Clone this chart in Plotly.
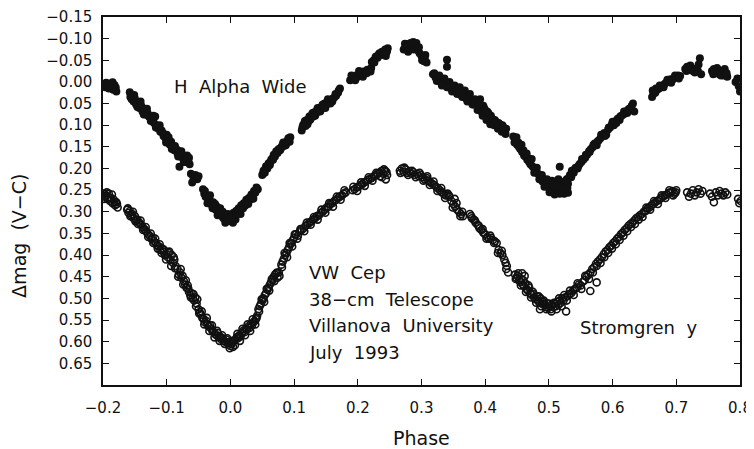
import plotly.graph_objects as go

# ---------------- data ----------------
ha_phase = [
    -0.199, -0.197, -0.195, -0.193, -0.191, -0.189, -0.187, -0.185, -0.184, -0.182, -0.180, -0.179,
    -0.158, -0.155, -0.152, -0.150, -0.148, -0.145, -0.143, -0.140, -0.138, -0.135, -0.133, -0.130,
    -0.128, -0.125, -0.122, -0.120, -0.118, -0.116, -0.113, -0.110, -0.108, -0.105, -0.102, -0.100,
    -0.098, -0.095, -0.093, -0.090, -0.088, -0.085, -0.083, -0.080, -0.078, -0.076, -0.074, -0.072,
    -0.070, -0.068, -0.066, -0.064, -0.080,
    -0.062, -0.058, -0.055, -0.052, -0.050, -0.060,
    -0.043, -0.041, -0.039, -0.037, -0.035, -0.033, -0.031, -0.029, -0.027, -0.025, -0.023, -0.021,
    -0.019, -0.017, -0.015, -0.013, -0.011, -0.009, -0.007, -0.005, -0.003, -0.001, 0.001, 0.003, 0.005,
    0.007, 0.009, 0.011, 0.013, 0.015, 0.017, 0.019, 0.021, 0.023, 0.025, 0.027, 0.029, 0.031, 0.033,
    0.035, 0.037, 0.039, 0.041, 0.043,
    0.050, 0.052, 0.054, 0.056, 0.058, 0.060, 0.062, 0.064, 0.066, 0.068, 0.070, 0.072, 0.074, 0.076,
    0.078, 0.080, 0.082, 0.084, 0.086, 0.088, 0.090, 0.092, 0.094,
    0.112, 0.114, 0.116, 0.118, 0.120, 0.122, 0.124, 0.126, 0.128, 0.130, 0.132, 0.134, 0.136, 0.138,
    0.140, 0.142, 0.144, 0.146, 0.148, 0.150, 0.152, 0.155, 0.158, 0.160, 0.163, 0.166, 0.169, 0.172,
    0.188, 0.191, 0.194, 0.197, 0.200, 0.203, 0.206, 0.209, 0.212, 0.215, 0.218, 0.221,
    0.222, 0.225, 0.228, 0.231, 0.234, 0.237, 0.240, 0.243, 0.245, 0.247,
    0.272, 0.275, 0.278, 0.281, 0.284, 0.287, 0.290, 0.293, 0.295, 0.297, 0.300, 0.302, 0.304, 0.306, 0.308,
    0.340, 0.340,
    0.318, 0.322, 0.326, 0.330, 0.334, 0.338, 0.342, 0.346, 0.350, 0.354, 0.358, 0.362, 0.366, 0.370,
    0.374, 0.378, 0.382, 0.386, 0.390, 0.392, 0.394, 0.397, 0.400, 0.403, 0.406, 0.409, 0.412, 0.415,
    0.418, 0.421, 0.424, 0.427, 0.430, 0.433,
    0.444, 0.447, 0.450, 0.452, 0.455, 0.458, 0.460, 0.463, 0.466, 0.468, 0.471, 0.474, 0.477, 0.480,
    0.483, 0.486,
    0.488, 0.490, 0.492, 0.494, 0.496, 0.498, 0.500, 0.502, 0.504, 0.506, 0.508, 0.510, 0.512, 0.514,
    0.516, 0.518, 0.520, 0.522, 0.524, 0.526, 0.528, 0.530, 0.515, 0.505, 0.517, 0.530,
    0.533, 0.536, 0.539, 0.542, 0.545, 0.548, 0.551, 0.554, 0.557, 0.560, 0.563, 0.566, 0.569, 0.572,
    0.575, 0.578, 0.581, 0.584, 0.587, 0.590, 0.593, 0.596, 0.599, 0.602, 0.605, 0.608, 0.611, 0.614,
    0.617, 0.620, 0.623, 0.626, 0.629, 0.632, 0.634,
    0.662, 0.664, 0.667, 0.670, 0.673, 0.676, 0.679, 0.682, 0.685, 0.688, 0.691, 0.694, 0.697, 0.700,
    0.703, 0.706,
    0.714, 0.717, 0.720, 0.723, 0.726, 0.729, 0.732, 0.735, 0.737, 0.739,
    0.756, 0.759, 0.762, 0.765, 0.768, 0.771, 0.774, 0.777, 0.780,
    0.793, 0.796, 0.798, 0.800,
]
ha_mag = [
    0.005, 0.012, 0.002, 0.008, 0.015, 0.004, 0.010, 0.001, 0.018, 0.007, 0.013, 0.022,
    0.024, 0.040, 0.045, 0.038, 0.052, 0.048, 0.060, 0.055, 0.068, 0.062, 0.075, 0.072,
    0.080, 0.090, 0.085, 0.095, 0.080, 0.100, 0.108, 0.115, 0.112, 0.125, 0.130, 0.122,
    0.140, 0.145, 0.138, 0.150, 0.158, 0.155, 0.165, 0.160, 0.172, 0.168, 0.178, 0.175,
    0.185, 0.170, 0.182, 0.190, 0.196,
    0.212, 0.220, 0.215, 0.225, 0.218, 0.232,
    0.248, 0.258, 0.265, 0.262, 0.272, 0.270, 0.280, 0.285, 0.278, 0.290, 0.295, 0.288,
    0.300, 0.305, 0.298, 0.310, 0.315, 0.305, 0.318, 0.312, 0.320, 0.308, 0.322, 0.315, 0.302,
    0.310, 0.298, 0.305, 0.292, 0.298, 0.285, 0.290, 0.280, 0.286, 0.272, 0.278, 0.268, 0.272, 0.260,
    0.264, 0.252, 0.256, 0.244, 0.248,
    0.215, 0.205, 0.210, 0.195, 0.200, 0.188, 0.192, 0.180, 0.176, 0.168, 0.172, 0.160, 0.164, 0.155,
    0.158, 0.150, 0.145, 0.148, 0.140, 0.142, 0.135, 0.132, 0.128,
    0.112, 0.100, 0.095, 0.102, 0.088, 0.092, 0.080, 0.085, 0.076, 0.080, 0.070, 0.074, 0.065, 0.068,
    0.060, 0.064, 0.055, 0.058, 0.050, 0.054, 0.046, 0.048, 0.042, 0.045, 0.036, 0.032, 0.025, 0.015,
    -0.004, -0.010, -0.008, -0.015, -0.012, -0.020, -0.018, -0.024, -0.022, -0.028, -0.025, -0.032,
    -0.046, -0.050, -0.058, -0.056, -0.066, -0.062, -0.070, -0.075, -0.068, -0.078,
    -0.075, -0.082, -0.078, -0.088, -0.080, -0.092, -0.085, -0.078, -0.072, -0.066, -0.060, -0.055, -0.048, -0.062, -0.045,
    -0.051, -0.035,
    -0.018, -0.010, -0.012, 0.000, -0.003, 0.008, 0.004, 0.015, 0.012, 0.022, 0.018, 0.030, 0.026, 0.038,
    0.034, 0.045, 0.052, 0.048, 0.060, 0.040, 0.068, 0.055, 0.075, 0.068, 0.085, 0.078, 0.092, 0.088,
    0.098, 0.095, 0.105, 0.100, 0.110, 0.108,
    0.126, 0.135, 0.145, 0.140, 0.155, 0.162, 0.158, 0.172, 0.180, 0.176, 0.190, 0.195, 0.200, 0.205,
    0.212, 0.218,
    0.222, 0.230, 0.226, 0.235, 0.240, 0.232, 0.245, 0.238, 0.248, 0.242, 0.252, 0.236, 0.245, 0.255,
    0.240, 0.250, 0.232, 0.245, 0.258, 0.238, 0.225, 0.235, 0.225, 0.228, 0.196, 0.256,
    0.215, 0.205, 0.210, 0.198, 0.200, 0.190, 0.185, 0.180, 0.175, 0.168, 0.160, 0.155, 0.150, 0.142,
    0.146, 0.135, 0.130, 0.125, 0.118, 0.122, 0.110, 0.105, 0.098, 0.100, 0.090, 0.085, 0.088, 0.078,
    0.075, 0.070, 0.072, 0.062, 0.060, 0.050, 0.068,
    0.035, 0.028, 0.025, 0.018, 0.015, 0.010, 0.008, 0.004, 0.000, -0.002, -0.006, -0.005, -0.010, -0.012,
    -0.015, -0.014,
    -0.030, -0.035, -0.028, -0.032, -0.025, -0.022, -0.030, -0.040, -0.055, -0.018,
    -0.025, -0.030, -0.020, -0.028, -0.018, -0.025, -0.015, -0.022, -0.012,
    0.000, -0.008, 0.010, 0.022,
]
ha_extra = [
    (-0.157, 0.035), (-0.151, 0.030), (-0.146, 0.058), (-0.141, 0.045), (-0.136, 0.075), (-0.131, 0.062),
    (-0.126, 0.082), (-0.121, 0.078), (-0.117, 0.105), (-0.111, 0.100), (-0.106, 0.118), (-0.101, 0.140),
    (-0.097, 0.128), (-0.092, 0.155), (-0.087, 0.148), (-0.082, 0.172), (-0.077, 0.160), (-0.073, 0.185),
    (-0.069, 0.180), (-0.065, 0.175),
    (-0.040, 0.252), (-0.036, 0.280), (-0.032, 0.262), (-0.028, 0.292), (-0.024, 0.282), (-0.020, 0.308),
    (-0.016, 0.292), (-0.012, 0.300), (-0.008, 0.325), (-0.004, 0.305), (0.000, 0.315), (0.004, 0.325),
    (0.008, 0.318), (0.012, 0.295), (0.016, 0.305), (0.020, 0.292), (0.024, 0.278), (0.028, 0.282),
    (0.032, 0.265), (0.036, 0.270), (0.040, 0.252),
    (0.051, 0.212), (0.055, 0.200), (0.059, 0.195), (0.063, 0.185), (0.067, 0.180), (0.071, 0.165),
    (0.075, 0.158), (0.079, 0.155), (0.083, 0.140), (0.087, 0.146), (0.091, 0.130), (0.093, 0.138),
    (0.113, 0.105), (0.117, 0.090), (0.121, 0.098), (0.125, 0.088), (0.129, 0.072), (0.133, 0.078),
    (0.137, 0.060), (0.141, 0.068), (0.145, 0.052), (0.149, 0.060), (0.153, 0.040), (0.157, 0.050),
    (0.161, 0.038), (0.165, 0.028), (0.170, 0.020),
    (0.190, -0.015), (0.196, -0.004), (0.202, -0.025), (0.208, -0.012), (0.214, -0.020), (0.220, -0.024),
    (0.226, -0.045), (0.232, -0.062), (0.238, -0.070), (0.244, -0.060), (0.246, -0.072),
    (0.274, -0.088), (0.279, -0.070), (0.283, -0.090), (0.288, -0.075), (0.292, -0.090), (0.296, -0.080),
    (0.301, -0.050), (0.305, -0.055),
    (0.320, -0.020), (0.324, -0.002), (0.328, -0.015), (0.332, 0.008), (0.336, -0.008), (0.340, 0.012),
    (0.344, 0.000), (0.348, 0.022), (0.352, 0.008), (0.356, 0.028), (0.360, 0.012), (0.364, 0.035),
    (0.368, 0.020), (0.372, 0.045), (0.376, 0.028), (0.380, 0.052), (0.384, 0.040), (0.388, 0.065),
    (0.392, 0.052), (0.396, 0.078), (0.399, 0.062), (0.402, 0.088), (0.405, 0.072), (0.408, 0.098),
    (0.411, 0.085), (0.414, 0.100), (0.417, 0.092), (0.420, 0.108), (0.423, 0.098), (0.426, 0.115),
    (0.429, 0.105), (0.432, 0.120),
    (0.446, 0.140), (0.449, 0.128), (0.453, 0.150), (0.457, 0.145), (0.461, 0.170), (0.465, 0.165),
    (0.469, 0.185), (0.473, 0.178), (0.477, 0.210), (0.481, 0.198), (0.485, 0.225), (0.489, 0.215),
    (0.493, 0.242), (0.497, 0.225), (0.501, 0.255), (0.505, 0.235), (0.509, 0.260), (0.513, 0.240),
    (0.517, 0.258), (0.521, 0.245), (0.525, 0.230), (0.529, 0.245), (0.531, 0.222),
    (0.535, 0.220), (0.540, 0.202), (0.546, 0.195), (0.552, 0.178), (0.558, 0.168), (0.564, 0.162),
    (0.570, 0.145), (0.576, 0.138), (0.582, 0.122), (0.588, 0.125), (0.594, 0.105), (0.600, 0.092),
    (0.606, 0.095), (0.612, 0.080), (0.618, 0.068), (0.624, 0.065), (0.630, 0.055),
    (0.663, 0.020), (0.668, 0.015), (0.674, 0.008), (0.680, 0.012), (0.686, -0.005), (0.692, 0.002),
    (0.698, -0.015), (0.704, -0.008),
    (0.716, -0.025), (0.722, -0.038), (0.728, -0.030), (0.734, -0.025), (0.758, -0.018), (0.764, -0.032),
    (0.770, -0.015), (0.776, -0.030), (0.779, -0.020),
]

sy_phase = [
    -0.199, -0.197, -0.195, -0.193, -0.191, -0.189, -0.187, -0.185, -0.183, -0.181, -0.179, -0.177,
    -0.162, -0.160, -0.158, -0.156, -0.154, -0.152, -0.150, -0.148,
    -0.146, -0.143, -0.140, -0.138, -0.135, -0.132, -0.130, -0.127, -0.124, -0.122, -0.120, -0.117,
    -0.115, -0.112, -0.110, -0.107, -0.105, -0.103, -0.100, -0.098, -0.096, -0.094, -0.092, -0.090,
    -0.088, -0.086,
    -0.083, -0.081, -0.079, -0.077, -0.075, -0.073, -0.071, -0.069, -0.067, -0.065, -0.063, -0.061,
    -0.059, -0.057, -0.055, -0.053,
    -0.050, -0.048, -0.046, -0.044, -0.042, -0.040, -0.038, -0.036, -0.034, -0.032, -0.030, -0.028,
    -0.026, -0.024, -0.022, -0.020, -0.018, -0.016, -0.014, -0.012, -0.010, -0.008, -0.006, -0.004,
    -0.002, 0.000, 0.002, 0.004, 0.006, 0.008, 0.010, 0.012, 0.014, 0.016, 0.018, 0.020, 0.022, 0.024,
    0.026, 0.028, 0.030, 0.032, 0.034, 0.036, 0.038, 0.040, 0.042,
    0.044, 0.046, 0.048, 0.050, 0.052, 0.054, 0.056, 0.058, 0.060, 0.062, 0.064, 0.066, 0.068, 0.070,
    0.072, 0.074, 0.076,
    0.080, 0.082, 0.084, 0.086, 0.088, 0.090, 0.092, 0.094, 0.096, 0.098,
    0.100, 0.103, 0.106, 0.109, 0.112,
    0.115, 0.118, 0.121, 0.124, 0.127, 0.130, 0.133, 0.136, 0.139, 0.142, 0.145, 0.148, 0.151, 0.154,
    0.157, 0.160, 0.163, 0.166, 0.169, 0.172, 0.175, 0.178, 0.181,
    0.192, 0.195, 0.198, 0.201, 0.204, 0.207, 0.210, 0.213, 0.216, 0.219, 0.222, 0.225, 0.228, 0.231,
    0.234, 0.237, 0.240, 0.243, 0.246, 0.244, 0.238,
    0.266, 0.269, 0.272, 0.275, 0.278, 0.281, 0.284, 0.287, 0.290, 0.293, 0.296, 0.299, 0.302, 0.305, 0.308,
    0.311, 0.314, 0.317, 0.320, 0.323, 0.326, 0.329, 0.332, 0.335, 0.338, 0.341, 0.344, 0.347, 0.350,
    0.353, 0.356, 0.359, 0.362, 0.365, 0.352,
    0.376, 0.379, 0.382, 0.385, 0.388, 0.391, 0.394, 0.397, 0.400, 0.403, 0.406,
    0.409, 0.412, 0.415, 0.418,
    0.421, 0.424, 0.427, 0.430, 0.432, 0.434, 0.436,
    0.447, 0.449, 0.451, 0.453, 0.455, 0.457, 0.459, 0.461, 0.463, 0.465, 0.467, 0.469, 0.471, 0.473,
    0.475, 0.477, 0.479, 0.481, 0.483, 0.485, 0.487, 0.489, 0.491, 0.493, 0.495, 0.497, 0.499, 0.501,
    0.503, 0.505, 0.507, 0.509, 0.511, 0.513, 0.515, 0.517, 0.519, 0.521, 0.523, 0.525, 0.527, 0.486,
    0.462, 0.458,
    0.529, 0.532, 0.535, 0.538, 0.541, 0.544, 0.547, 0.550, 0.553, 0.556, 0.559, 0.562, 0.565, 0.565, 0.575,
    0.568, 0.571, 0.574, 0.577, 0.580, 0.583, 0.586, 0.589, 0.592, 0.595, 0.598, 0.601, 0.604, 0.607,
    0.610, 0.613, 0.616, 0.619, 0.622, 0.625, 0.628, 0.631, 0.634, 0.637, 0.640, 0.643,
    0.646, 0.649, 0.652, 0.655, 0.658, 0.661, 0.664, 0.667, 0.670, 0.673, 0.676, 0.679, 0.682, 0.685,
    0.688, 0.691, 0.694, 0.697, 0.700,
    0.717, 0.720, 0.723, 0.726, 0.729, 0.732, 0.735, 0.738, 0.741,
    0.753, 0.756, 0.759, 0.762, 0.765, 0.768, 0.771, 0.774, 0.777, 0.780,
    0.797, 0.799, 0.801,
]
sy_mag = [
    0.258, 0.265, 0.262, 0.270, 0.258, 0.275, 0.268, 0.280, 0.272, 0.285, 0.278, 0.290,
    0.295, 0.302, 0.298, 0.308, 0.305, 0.315, 0.310, 0.320,
    0.318, 0.325, 0.330, 0.335, 0.340, 0.345, 0.350, 0.355, 0.362, 0.360, 0.368, 0.372,
    0.378, 0.380, 0.388, 0.385, 0.392, 0.400, 0.398, 0.405, 0.392, 0.412, 0.400, 0.418,
    0.410, 0.425,
    0.432, 0.445, 0.440, 0.452, 0.448, 0.460, 0.468, 0.475, 0.470, 0.485, 0.492, 0.488,
    0.500, 0.505, 0.498, 0.512,
    0.525, 0.532, 0.538, 0.545, 0.548, 0.555, 0.552, 0.560, 0.565, 0.562, 0.570, 0.575,
    0.578, 0.582, 0.585, 0.580, 0.590, 0.588, 0.595, 0.592, 0.598, 0.600, 0.595, 0.604,
    0.600, 0.610, 0.605, 0.612, 0.598, 0.595, 0.590, 0.592, 0.585, 0.588, 0.580, 0.575, 0.578, 0.570,
    0.572, 0.565, 0.568, 0.560, 0.562, 0.555, 0.552, 0.548, 0.540,
    0.525, 0.518, 0.512, 0.505, 0.500, 0.492, 0.488, 0.480, 0.475, 0.468, 0.462, 0.458, 0.450, 0.445,
    0.442, 0.452, 0.440,
    0.422, 0.415, 0.408, 0.400, 0.395, 0.388, 0.382, 0.375, 0.372, 0.365,
    0.360, 0.352, 0.355, 0.345, 0.342,
    0.338, 0.332, 0.330, 0.325, 0.322, 0.318, 0.315, 0.310, 0.308, 0.302, 0.300, 0.295, 0.290, 0.288,
    0.282, 0.280, 0.275, 0.272, 0.268, 0.265, 0.262, 0.258, 0.255,
    0.250, 0.248, 0.244, 0.242, 0.238, 0.236, 0.232, 0.230, 0.226, 0.224, 0.222, 0.218, 0.216, 0.212,
    0.210, 0.206, 0.212, 0.205, 0.215, 0.225, 0.220,
    0.205, 0.200, 0.208, 0.202, 0.210, 0.206, 0.212, 0.208, 0.215, 0.212, 0.218, 0.215, 0.220, 0.225, 0.222,
    0.228, 0.232, 0.235, 0.238, 0.242, 0.246, 0.250, 0.255, 0.258, 0.262, 0.258, 0.265, 0.275, 0.282,
    0.288, 0.295, 0.300, 0.305, 0.310, 0.270,
    0.305, 0.315, 0.318, 0.325, 0.330, 0.338, 0.342, 0.348, 0.352, 0.358, 0.362,
    0.360, 0.365, 0.368, 0.372,
    0.388, 0.395, 0.400, 0.410, 0.418, 0.425, 0.440,
    0.445, 0.452, 0.448, 0.458, 0.462, 0.455, 0.468, 0.472, 0.465, 0.478, 0.482, 0.475, 0.488, 0.492,
    0.485, 0.498, 0.502, 0.495, 0.505, 0.510, 0.500, 0.512, 0.508, 0.515, 0.520, 0.512, 0.522, 0.518,
    0.525, 0.515, 0.520, 0.512, 0.518, 0.508, 0.515, 0.505, 0.510, 0.500, 0.505, 0.498, 0.530, 0.525,
    0.448, 0.442,
    0.495, 0.490, 0.488, 0.482, 0.478, 0.475, 0.468, 0.470, 0.462, 0.458, 0.450, 0.445, 0.440, 0.483, 0.463,
    0.432, 0.428, 0.420, 0.415, 0.410, 0.405, 0.398, 0.392, 0.388, 0.382, 0.378, 0.372, 0.368, 0.362,
    0.358, 0.352, 0.348, 0.342, 0.338, 0.332, 0.328, 0.325, 0.320, 0.315, 0.312, 0.308,
    0.305, 0.300, 0.298, 0.292, 0.290, 0.285, 0.282, 0.278, 0.275, 0.272, 0.268, 0.265, 0.262, 0.260,
    0.256, 0.255, 0.252, 0.258, 0.250,
    0.255, 0.265, 0.258, 0.250, 0.262, 0.255, 0.248, 0.258, 0.252,
    0.258, 0.265, 0.278, 0.255, 0.262, 0.252, 0.258, 0.262, 0.255, 0.260,
    0.270, 0.280, 0.275,
]
sy_extra = [
    (-0.198, 0.270), (-0.194, 0.255), (-0.190, 0.268), (-0.186, 0.260), (-0.182, 0.278), (-0.178, 0.282),
    (-0.161, 0.292), (-0.157, 0.310), (-0.153, 0.300), (-0.149, 0.322),
    (-0.145, 0.328), (-0.141, 0.320), (-0.137, 0.342), (-0.133, 0.335), (-0.129, 0.358), (-0.125, 0.350),
    (-0.121, 0.372), (-0.118, 0.362), (-0.114, 0.385), (-0.111, 0.375), (-0.108, 0.395), (-0.104, 0.388),
    (-0.101, 0.410), (-0.097, 0.395), (-0.093, 0.425), (-0.089, 0.405), (-0.087, 0.430),
    (-0.082, 0.450), (-0.078, 0.432), (-0.074, 0.468), (-0.070, 0.458), (-0.066, 0.478), (-0.062, 0.498),
    (-0.058, 0.490), (-0.054, 0.518), (-0.052, 0.502),
    (-0.049, 0.535), (-0.045, 0.530), (-0.041, 0.560), (-0.037, 0.545), (-0.033, 0.575), (-0.029, 0.562),
    (-0.025, 0.590), (-0.021, 0.575), (-0.017, 0.598), (-0.013, 0.585), (-0.009, 0.605), (-0.005, 0.592),
    (-0.001, 0.615), (0.003, 0.598), (0.007, 0.608), (0.011, 0.582), (0.015, 0.598), (0.019, 0.570),
    (0.023, 0.585), (0.027, 0.560), (0.031, 0.575), (0.035, 0.548), (0.039, 0.560), (0.041, 0.545),
    (0.045, 0.530), (0.049, 0.502), (0.053, 0.508), (0.057, 0.478), (0.061, 0.482), (0.065, 0.455),
    (0.069, 0.460), (0.073, 0.440), (0.077, 0.448),
    (0.081, 0.428), (0.085, 0.395), (0.089, 0.405), (0.093, 0.372), (0.097, 0.380), (0.101, 0.352),
    (0.105, 0.362), (0.110, 0.340),
    (0.116, 0.345), (0.120, 0.325), (0.126, 0.330), (0.131, 0.312), (0.137, 0.318), (0.143, 0.295),
    (0.149, 0.302), (0.155, 0.280), (0.161, 0.288), (0.167, 0.265), (0.173, 0.272), (0.179, 0.250),
    (0.193, 0.242), (0.199, 0.252), (0.205, 0.232), (0.211, 0.240), (0.217, 0.220), (0.223, 0.228),
    (0.229, 0.210), (0.235, 0.218), (0.241, 0.202), (0.245, 0.208),
    (0.267, 0.210), (0.273, 0.198), (0.279, 0.215), (0.285, 0.205), (0.291, 0.220), (0.297, 0.210),
    (0.303, 0.228), (0.309, 0.218),
    (0.313, 0.238), (0.319, 0.230), (0.325, 0.252), (0.331, 0.245), (0.337, 0.268), (0.343, 0.262),
    (0.349, 0.290), (0.355, 0.280), (0.361, 0.310), (0.364, 0.300),
    (0.378, 0.310), (0.384, 0.320), (0.390, 0.332), (0.396, 0.340), (0.402, 0.362), (0.408, 0.355),
    (0.414, 0.372), (0.420, 0.395), (0.426, 0.390), (0.433, 0.432),
    (0.448, 0.455), (0.452, 0.442), (0.456, 0.470), (0.460, 0.458), (0.464, 0.485), (0.468, 0.470),
    (0.472, 0.498), (0.476, 0.490), (0.480, 0.510), (0.484, 0.495), (0.488, 0.518), (0.492, 0.505),
    (0.496, 0.525), (0.500, 0.512), (0.504, 0.530), (0.508, 0.510), (0.512, 0.525), (0.516, 0.500),
    (0.520, 0.518), (0.524, 0.492), (0.528, 0.505),
    (0.533, 0.482), (0.539, 0.492), (0.545, 0.465), (0.551, 0.478), (0.557, 0.448), (0.563, 0.455),
    (0.569, 0.440), (0.575, 0.425), (0.581, 0.418), (0.587, 0.405), (0.593, 0.395), (0.599, 0.385),
    (0.605, 0.375), (0.611, 0.365), (0.617, 0.355), (0.623, 0.345), (0.629, 0.335), (0.635, 0.328),
    (0.641, 0.318),
    (0.647, 0.312), (0.653, 0.290), (0.659, 0.295), (0.665, 0.275), (0.671, 0.282), (0.677, 0.262),
    (0.683, 0.268), (0.689, 0.250), (0.695, 0.262), (0.699, 0.255),
]

y_ticks = [-0.15, -0.10, -0.05, 0.00, 0.05, 0.10, 0.15, 0.20, 0.25, 0.30,
           0.35, 0.40, 0.45, 0.50, 0.55, 0.60, 0.65]
x_ticks = [-0.2, -0.1, 0.0, 0.1, 0.2, 0.3, 0.4, 0.5, 0.6, 0.7, 0.8]

label_ha = "H  Alpha  Wide"
label_sy = "Stromgren  y"
info_lines = ["VW  Cep", "38\u2212cm  Telescope", "Villanova  University", "July  1993"]

# ---------------- figure ----------------
FONT = "DejaVu Sans"
INK = "#111111"

ha_x = ha_phase + [p for p, _ in ha_extra]
ha_y = ha_mag + [m for _, m in ha_extra]
sy_x = sy_phase + [p for p, _ in sy_extra]
sy_y = sy_mag + [m for _, m in sy_extra]

fig = go.Figure()
fig.add_trace(go.Scatter(
    x=ha_x, y=ha_y, mode="markers", name="H Alpha Wide",
    marker=dict(symbol="circle", size=8, color=INK, line=dict(width=0)),
))
fig.add_trace(go.Scatter(
    x=sy_x, y=sy_y, mode="markers", name="Stromgren y",
    marker=dict(symbol="circle-open", size=7, color=INK, line=dict(width=1.6, color=INK)),
))

def fmt(v, nd):
    s = f"{abs(v):.{nd}f}"
    return ("\u2212" + s) if v < -1e-9 else s

axis_common = dict(
    showline=True, linecolor=INK, linewidth=1.5, mirror="ticks",
    ticks="inside", ticklen=6, tickwidth=1.2, tickcolor=INK,
    showgrid=False, zeroline=False,
    tickfont=dict(family=FONT, size=15, color=INK),
)

# the page body carries an 8px default margin, so the figure is sized/offset to compensate
fig.update_layout(
    width=746, height=441,
    margin=dict(l=95, r=14, t=9, b=64, autoexpand=False),
    paper_bgcolor="white", plot_bgcolor="white",
    showlegend=False,
    xaxis=dict(range=[-0.2, 0.8], tickvals=x_ticks, automargin=False,
               ticktext=[fmt(v, 1) for v in x_ticks], ticklabelstandoff=8, **axis_common),
    yaxis=dict(range=[0.70, -0.15], tickvals=y_ticks, automargin=False,
               ticktext=[fmt(v, 2) for v in y_ticks], ticklabelstandoff=6, **axis_common),
)

ann_font = dict(family=FONT, size=18, color=INK)
fig.add_annotation(x=-0.092, y=0.011, xref="x", yref="y", text=label_ha,
                   showarrow=False, xanchor="left", yanchor="middle", font=ann_font)
fig.add_annotation(x=0.546, y=0.567, xref="x", yref="y", text=label_sy,
                   showarrow=False, xanchor="left", yanchor="middle", font=ann_font)
for line, yv in zip(info_lines, [0.440, 0.502, 0.562, 0.624]):
    fig.add_annotation(x=0.120, y=yv, xref="x", yref="y", text=line,
                       showarrow=False, xanchor="left", yanchor="middle", font=ann_font)

fig.add_annotation(x=-0.132, y=0.405, xref="paper", yref="paper",
                   text="\u0394mag  (V\u2212C)", textangle=-90, showarrow=False,
                   xanchor="center", yanchor="middle",
                   font=dict(family=FONT, size=19, color=INK))
fig.add_annotation(x=0.5, y=-0.143, xref="paper", yref="paper", text="Phase",
                   showarrow=False, xanchor="center", yanchor="middle",
                   font=dict(family=FONT, size=19, color=INK))

fig.write_html("out.html")
